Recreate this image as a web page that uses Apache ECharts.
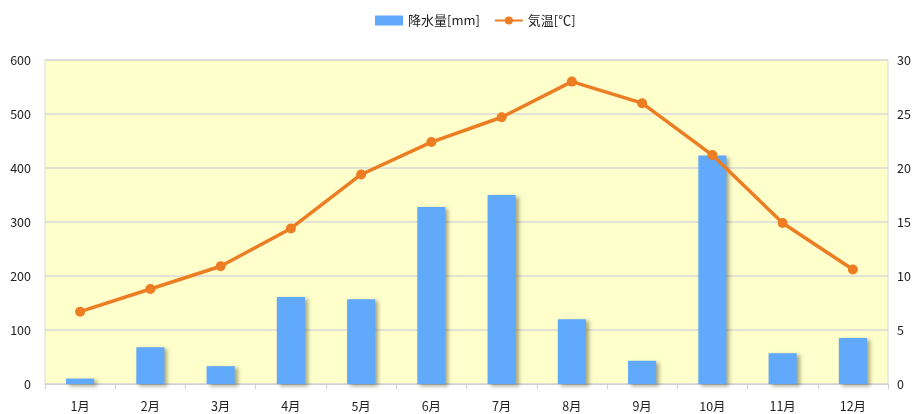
<!DOCTYPE html>
<html><head><meta charset="utf-8">
<script src="https://cdn.jsdelivr.net/npm/echarts@6/dist/echarts.min.js"></script>
<style>html,body{margin:0;padding:0;background:#fff}#c{width:917px;height:414px}</style>
</head><body><div id="c"></div>
<script>
const months = ['1月','2月','3月','4月','5月','6月','7月','8月','9月','10月','11月','12月'];
const precipitation = [10, 68, 33, 161, 157, 328, 350, 120, 43, 423, 57, 85];
const temperature = [6.7, 8.8, 10.9, 14.4, 19.4, 22.4, 24.7, 28.0, 26.0, 21.2, 14.9, 10.6];
const precipName = '降水量[mm]';
const tempName = '気温[℃]';

const font = '"Noto Sans CJK JP", "Noto Sans", sans-serif';
const chart = echarts.init(document.getElementById('c'), null, {renderer:'canvas'});
chart.setOption({
  animation: false,
  textStyle: {fontFamily: font},
  legend: {
    top: 9, left: 370, itemGap: 14, itemWidth: 28, itemHeight: 10,
    textStyle: {fontFamily: font, fontSize: 13, color: '#222'},
    data: [{name: precipName, icon: 'rect'}, {name: tempName}]
  },
  grid: {left: 45, right: 29, top: 60, bottom: 30, show: true, backgroundColor: '#ffffcc', borderColor: '#d9d9d9', borderWidth: 1},
  xAxis: {
    type: 'category', data: months, boundaryGap: true,
    axisLine: {lineStyle: {color: '#d0d0d0'}},
    axisTick: {show: true, length: 5, lineStyle: {color: '#d0d0d0'}},
    axisLabel: {color: '#222', fontSize: 12.5, margin: 16, fontFamily: font}
  },
  yAxis: [
    {type: 'value', min: 0, max: 600, interval: 100,
     axisLabel: {color: '#222', fontSize: 12.5, margin: 14, fontFamily: font},
     splitLine: {lineStyle: {color: '#d9d9d9', width: 1.5}},
     axisLine: {show: false}, axisTick: {show: false}},
    {type: 'value', min: 0, max: 30, interval: 5,
     axisLabel: {color: '#222', fontSize: 12.5, margin: 9, fontFamily: font},
     splitLine: {show: false}, axisLine: {show: false}, axisTick: {show: false}}
  ],
  series: [
    {name: precipName, type: 'bar', data: precipitation, barWidth: '40%', yAxisIndex: 0,
     itemStyle: {color: '#61a9fb', shadowColor: 'rgba(60,60,30,0.45)', shadowBlur: 4, shadowOffsetX: 3, shadowOffsetY: 2}},
    {name: tempName, type: 'line', data: temperature, yAxisIndex: 1,
     symbol: 'circle', symbolSize: 10,
     lineStyle: {color: '#ed7d22', width: 3.5},
     itemStyle: {color: '#ed7d22'}}
  ]
});
</script></body></html>
